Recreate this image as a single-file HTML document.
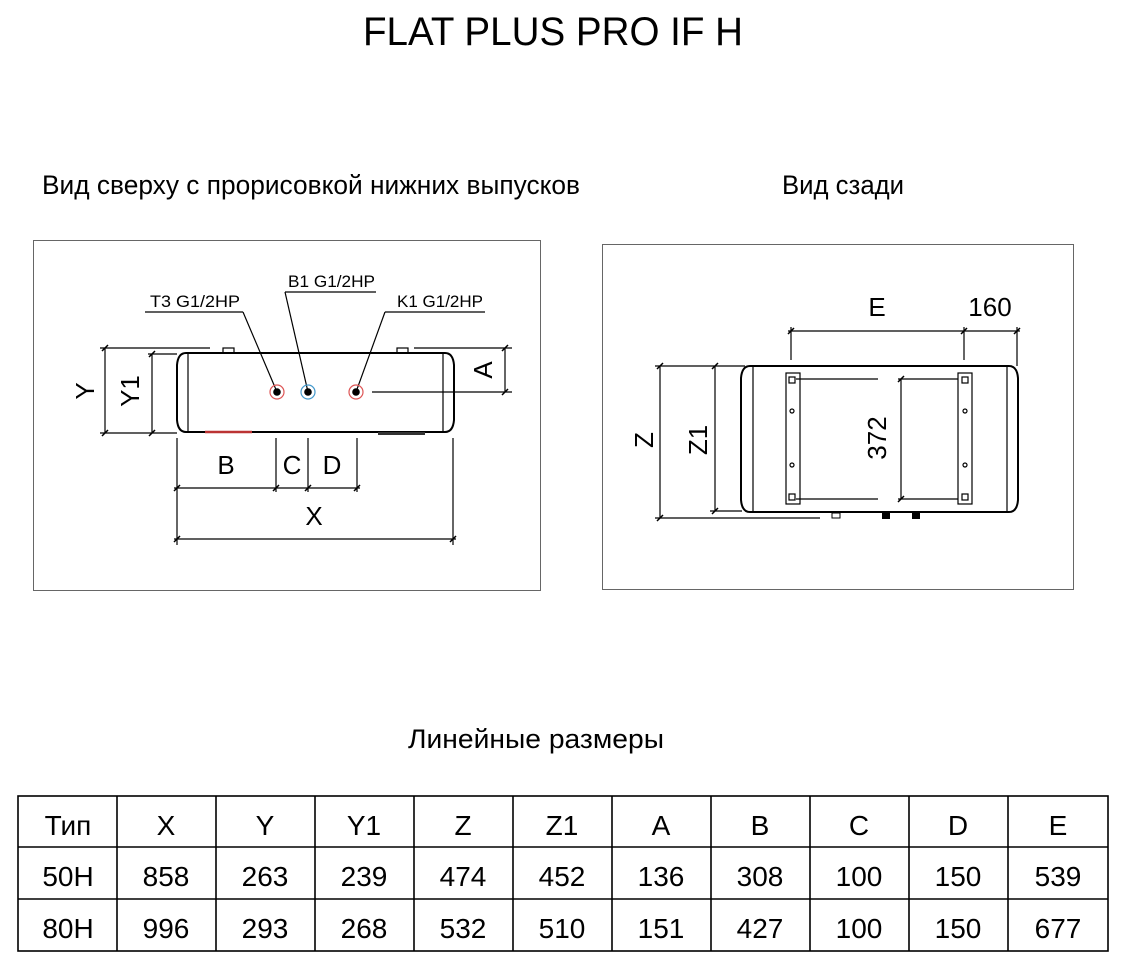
<!DOCTYPE html>
<html><head><meta charset="utf-8"><style>
html,body{margin:0;padding:0;background:#fff}
svg{display:block}
text{font-family:"Liberation Sans Narrow","Liberation Sans","DejaVu Sans",sans-serif;fill:#000}
</style></head><body>
<svg width="1124" height="964" viewBox="0 0 1124 964" xmlns="http://www.w3.org/2000/svg">
<text x="363" y="45" font-size="40" textLength="380" lengthAdjust="spacingAndGlyphs">FLAT PLUS PRO IF H</text>
<text x="42" y="194" font-size="27" textLength="538" lengthAdjust="spacingAndGlyphs">Вид сверху с прорисовкой нижних выпусков</text>
<text x="782" y="194" font-size="27" textLength="122" lengthAdjust="spacingAndGlyphs">Вид сзади</text>

<g fill="none" stroke="#000" stroke-width="1">
<rect x="33.5" y="240.5" width="507" height="350" stroke="#666"/>
<rect x="602.5" y="244.5" width="471" height="345" stroke="#666"/>
</g>

<!-- Left view -->
<g fill="none" stroke="#000" stroke-width="1.2">
<path d="M186 353 L445 353 Q453 353 454 365 L454 420 Q453 432 445 432 L186 432 Q178 432 177 420 L177 365 Q178 353 186 353 Z" stroke-width="2"/>
<line x1="188" y1="354" x2="188" y2="431"/>
<line x1="443" y1="354" x2="443" y2="431"/>
<rect x="223" y="348" width="11" height="5"/>
<rect x="397" y="348" width="11" height="5"/>
<!-- leaders -->
<line x1="145" y1="312" x2="243" y2="312"/>
<line x1="243" y1="312" x2="277" y2="392"/>
<line x1="285" y1="292" x2="376" y2="292"/>
<line x1="285" y1="292" x2="308" y2="392"/>
<line x1="385" y1="312" x2="485" y2="312"/>
<line x1="385" y1="312" x2="356" y2="392"/>
<line x1="372" y1="392" x2="512" y2="392"/>
<line x1="414" y1="348" x2="512" y2="348"/>
<line x1="505" y1="348" x2="505" y2="392"/>
<!-- Y -->
<line x1="100" y1="348" x2="210" y2="348"/>
<line x1="105" y1="348" x2="105" y2="433"/>
<line x1="100" y1="433" x2="177" y2="433"/>
<line x1="148" y1="354" x2="177" y2="354"/>
<line x1="152" y1="354" x2="152" y2="433"/>
<!-- B C D X -->
<line x1="177" y1="438" x2="177" y2="545"/>
<line x1="276" y1="438" x2="276" y2="492"/>
<line x1="308" y1="438" x2="308" y2="492"/>
<line x1="357" y1="438" x2="357" y2="492"/>
<line x1="453" y1="438" x2="453" y2="545"/>
<line x1="174" y1="488" x2="360" y2="488"/>
<line x1="174" y1="539" x2="456" y2="539"/>
<!-- ticks -->
<path d="M502 351 L508 345 M502 395 L508 389 M102 351 L108 345 M102 436 L108 430 M149 357 L155 351 M149 436 L155 430 M174 491 L180 485 M273 491 L279 485 M305 491 L311 485 M354 491 L360 485 M174 542 L180 536 M450 542 L456 536" stroke-width="1.5"/>
</g>
<line x1="205" y1="432" x2="252" y2="432" stroke="#b33" stroke-width="2.5"/>
<rect x="378" y="432" width="47" height="3" fill="#333"/>
<circle cx="277" cy="392" r="7" fill="none" stroke="#d55" stroke-width="1.2"/>
<circle cx="277" cy="392" r="3.8" fill="#000"/>
<circle cx="308" cy="392" r="7" fill="none" stroke="#49c" stroke-width="1.2"/>
<circle cx="308" cy="392" r="3.8" fill="#000"/>
<circle cx="356" cy="392" r="7" fill="none" stroke="#d55" stroke-width="1.2"/>
<circle cx="356" cy="392" r="3.8" fill="#000"/>
<g font-size="17">
<text x="150" y="307" textLength="90" lengthAdjust="spacingAndGlyphs">T3 G1/2HP</text>
<text x="288" y="287" textLength="87" lengthAdjust="spacingAndGlyphs">B1 G1/2HP</text>
<text x="397" y="307" textLength="86" lengthAdjust="spacingAndGlyphs">K1 G1/2HP</text>
</g>
<g font-size="26">
<text x="226" y="474" text-anchor="middle">B</text>
<text x="292" y="474" text-anchor="middle">C</text>
<text x="332" y="474" text-anchor="middle">D</text>
<text x="314" y="525" text-anchor="middle">X</text>
<text transform="translate(94,391) rotate(-90)" text-anchor="middle">Y</text>
<text transform="translate(139,391) rotate(-90)" text-anchor="middle">Y1</text>
<text transform="translate(492,370) rotate(-90)" text-anchor="middle">A</text>
</g>

<!-- Right view -->
<g fill="none" stroke="#000" stroke-width="1.2">
<path d="M750 366 L1009 366 Q1017 366 1018 378 L1018 500 Q1017 512 1009 512 L750 512 Q742 512 741 500 L741 378 Q742 366 750 366 Z" stroke-width="2"/>
<line x1="753" y1="367" x2="753" y2="511"/>
<line x1="1007" y1="367" x2="1007" y2="511"/>
<rect x="786" y="373" width="14" height="131"/>
<rect x="958" y="373" width="14" height="131"/>
<rect x="789" y="377" width="6" height="6"/>
<rect x="789" y="494" width="6" height="6"/>
<rect x="962" y="377" width="6" height="6"/>
<rect x="962" y="494" width="6" height="6"/>
<circle cx="792" cy="411" r="2"/><circle cx="792" cy="465" r="2"/>
<circle cx="965" cy="411" r="2"/><circle cx="965" cy="465" r="2"/>
<line x1="796" y1="379" x2="878" y2="379"/>
<line x1="898" y1="379" x2="958" y2="379"/>
<line x1="796" y1="499" x2="878" y2="499"/>
<line x1="898" y1="499" x2="958" y2="499"/>
<line x1="901" y1="379" x2="901" y2="499"/>
<!-- E / 160 -->
<line x1="791" y1="327" x2="791" y2="360"/>
<line x1="964" y1="327" x2="964" y2="360"/>
<line x1="1017" y1="327" x2="1017" y2="366"/>
<line x1="788" y1="331" x2="1020" y2="331"/>
<!-- Z -->
<line x1="655" y1="366" x2="745" y2="366"/>
<line x1="710" y1="511" x2="742" y2="511"/>
<line x1="655" y1="518" x2="820" y2="518"/>
<line x1="660" y1="366" x2="660" y2="518"/>
<line x1="715" y1="366" x2="715" y2="511"/>
<path d="M788 334 L794 328 M961 334 L967 328 M1014 334 L1020 328 M657 369 L663 363 M657 521 L663 515 M712 369 L718 363 M712 514 L718 508 M898 382 L904 376 M898 502 L904 496" stroke-width="1.5"/>
<rect x="832" y="513" width="8" height="5" stroke-width="1"/>
</g>
<rect x="882" y="512" width="8" height="7" fill="#000"/>
<rect x="912" y="512" width="8" height="7" fill="#000"/>
<g font-size="26">
<text x="877" y="316" text-anchor="middle">E</text>
<text x="990" y="316" text-anchor="middle">160</text>
<text transform="translate(653,440) rotate(-90)" text-anchor="middle">Z</text>
<text transform="translate(707,440) rotate(-90)" text-anchor="middle">Z1</text>
<text transform="translate(886,438) rotate(-90)" text-anchor="middle">372</text>
</g>

<text x="536" y="748" font-size="27" text-anchor="middle" textLength="256" lengthAdjust="spacingAndGlyphs">Линейные размеры</text>

<!-- Table -->
<g fill="none" stroke="#000" stroke-width="1.6">
<rect x="18" y="796" width="1090" height="155"/>
<line x1="18" y1="847" x2="1108" y2="847"/>
<line x1="18" y1="899" x2="1108" y2="899"/>
<line x1="117" y1="796" x2="117" y2="951"/>
<line x1="216" y1="796" x2="216" y2="951"/>
<line x1="315" y1="796" x2="315" y2="951"/>
<line x1="414" y1="796" x2="414" y2="951"/>
<line x1="513" y1="796" x2="513" y2="951"/>
<line x1="612" y1="796" x2="612" y2="951"/>
<line x1="711" y1="796" x2="711" y2="951"/>
<line x1="810" y1="796" x2="810" y2="951"/>
<line x1="909" y1="796" x2="909" y2="951"/>
<line x1="1008" y1="796" x2="1008" y2="951"/>
</g>
<g font-size="28" text-anchor="middle">
<text x="68" y="835">Тип</text><text x="166" y="835">X</text><text x="265" y="835">Y</text><text x="364" y="835">Y1</text><text x="463" y="835">Z</text><text x="562" y="835">Z1</text><text x="661" y="835">A</text><text x="760" y="835">B</text><text x="859" y="835">C</text><text x="958" y="835">D</text><text x="1058" y="835">E</text>
<text x="68" y="886">50H</text><text x="166" y="886">858</text><text x="265" y="886">263</text><text x="364" y="886">239</text><text x="463" y="886">474</text><text x="562" y="886">452</text><text x="661" y="886">136</text><text x="760" y="886">308</text><text x="859" y="886">100</text><text x="958" y="886">150</text><text x="1058" y="886">539</text>
<text x="68" y="938">80H</text><text x="166" y="938">996</text><text x="265" y="938">293</text><text x="364" y="938">268</text><text x="463" y="938">532</text><text x="562" y="938">510</text><text x="661" y="938">151</text><text x="760" y="938">427</text><text x="859" y="938">100</text><text x="958" y="938">150</text><text x="1058" y="938">677</text>
</g>
</svg>
</body></html>
